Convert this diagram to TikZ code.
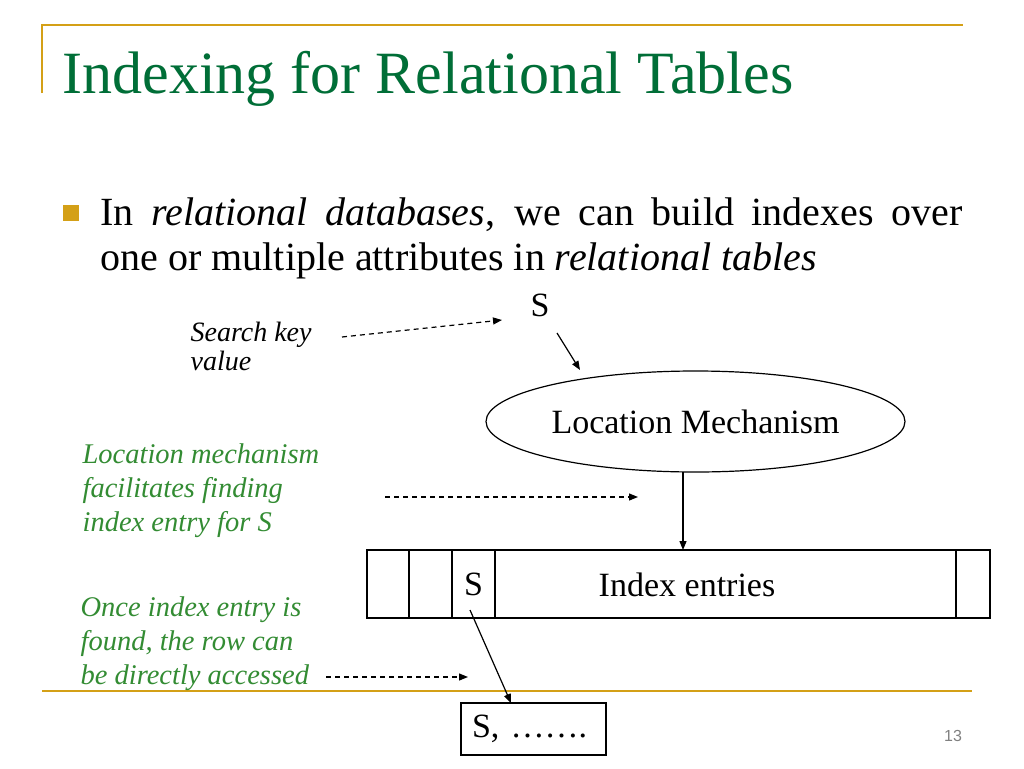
\documentclass[tikz,border=0pt]{standalone}
\usepackage{fontspec}
\setmainfont{Liberation Serif}
\newfontfamily\slidenumfont{Liberation Sans}
\usetikzlibrary{arrows.meta,shapes.geometric,positioning}
\definecolor{titlegreen}{RGB}{0,110,55}
\definecolor{notegreen}{RGB}{51,140,51}
\definecolor{rulegold}{RGB}{212,160,23}
\definecolor{numgray}{RGB}{128,128,128}

\begin{document}
\begin{tikzpicture}[x=1pt,y=-1pt,>={Triangle[length=9pt,width=7pt]},line width=1.2pt,
  every node/.style={inner sep=0pt},
  txt/.style={anchor=base west,align=left},
  note/.style={txt,text=notegreen,font=\fontsize{28.5}{34}\selectfont\itshape},
  dasharrow/.style={->,dash pattern=on 5pt off 4pt},
  cell/.style={draw,outer sep=0pt,minimum height=68pt,font=\fontsize{34}{40}\selectfont},
  goldrule/.style={draw=rulegold,line width=2.5pt}]
 \path[use as bounding box,fill=white] (0,0) rectangle (1024,768);

 % slide frame
 \draw[goldrule] (42,93) -- (42,25) -- (963,25);
 \draw[goldrule] (42,691) -- (972,691);

 \node[txt,text=titlegreen,font=\fontsize{60}{66}\selectfont]
              (title) at (62,93) {Indexing for Relational Tables};
 \node[fill=rulegold,minimum size=16pt] (bullet) at (71,213) {};
 \node[txt,font=\fontsize{40}{45}\selectfont] (intro1) at (100,225)
   {\makebox[862pt][s]{In \textit{relational databases}, we can build indexes over}};
 \node[txt,font=\fontsize{40}{45}\selectfont] (intro2) at (100,270)
   {one or multiple attributes in \textit{relational tables}};

 % multi-line nodes: base is the last line
 \node[anchor=base,font=\fontsize{34}{40}\selectfont] (key) at (540,316) {S};
 \node[txt,font=\fontsize{28}{29}\selectfont\itshape] (search) at (190,370) {Search key\\value};
 \node[draw,ellipse,minimum width=419pt,minimum height=101pt,font=\fontsize{34}{40}\selectfont]
              (locmech) at (695.5,421.5) {Location Mechanism};

 % index entries
 \node[cell,minimum width=42pt] (c1) at (388,584) {};
 \node[cell,minimum width=43pt,right=0pt of c1] (c2) {};
 \node[cell,minimum width=43pt,right=0pt of c2] (c3) {S};
 \node[cell,minimum width=461pt,right=0pt of c3] (c4) {};
 \node[cell,minimum width=34pt,right=0pt of c4] (c5) {};
 \node[font=\fontsize{34}{40}\selectfont] (entries) at (687,585) {Index entries};

 \node[draw,minimum height=52pt,text width=123pt,inner xsep=11pt,align=left,
       font=\fontsize{34}{40}\selectfont] (row) at (533.5,729) {S, …….};
 \node[font=\slidenumfont\fontsize{16}{18}\selectfont,text=numgray] (pagenum) at (953,736) {13};

 \node[note] (locnote) at (82,531) {Location mechanism\\facilitates finding\\index entry for S};
 \node[note] (rownote) at (80,684) {Once index entry is\\found, the row can\\be directly accessed};

 \coordinate (keytail) at (342,337);
 \coordinate (keyhead) at (502,320);
 \coordinate (keyout) at (557,333);
 \coordinate (keyin) at (580,370);
 \coordinate (drop) at (683,472);
 \coordinate (loctail) at (385,497);
 \coordinate (lochead) at (638,497);
 \coordinate (rowtail) at (326,677);
 \coordinate (rowhead) at (468,677);
 \coordinate (sout) at (470,610);
 \coordinate (rowin) at (511,703);

 \path[dasharrow] (keytail) edge (keyhead)
                  (loctail) edge (lochead)
                  (rowtail) edge (rowhead);
 \path[->] (keyout) edge (keyin)
           (drop) edge (drop |- c4.north)
           (sout) edge (rowin);
\end{tikzpicture}
\end{document}
